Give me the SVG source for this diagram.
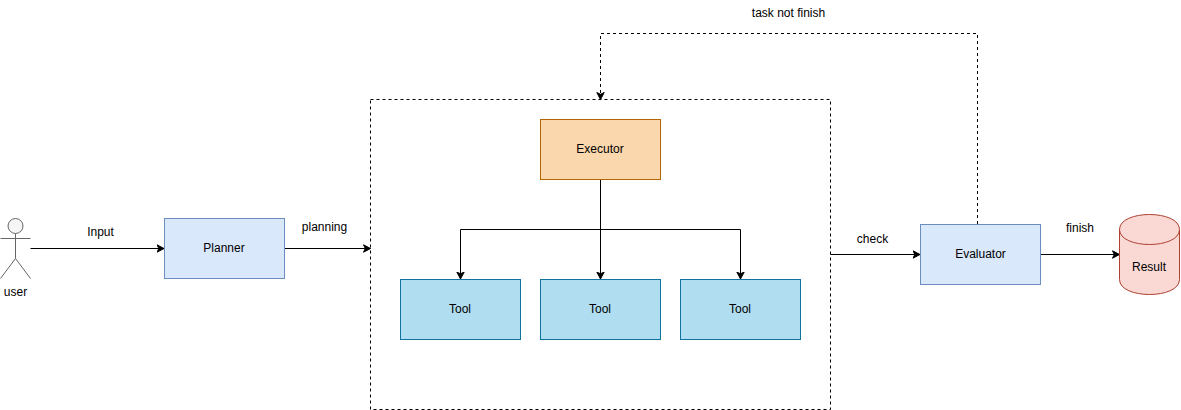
<svg xmlns="http://www.w3.org/2000/svg" width="1181" height="410" viewBox="0 0 1181 410">
<defs>
<style>
text{font-family:Helvetica,"Liberation Sans",Arial,sans-serif;font-size:12px;fill:#000;text-anchor:middle}
.blue{fill:#dae8fc;stroke:#6c8ebf}
.orange{fill:#fad7ac;stroke:#b46504}
.tool{fill:#b1ddf0;stroke:#10739e}
.red{fill:#fad9d5;stroke:#ae4132}
.c{fill:none;stroke:#000;stroke-width:1}
.d{stroke-dasharray:3 3}
.actor{fill:none;stroke:#666}
</style>
<marker id="arrow" viewBox="0 0 8 9" refX="7.5" refY="4.500" markerWidth="8" markerHeight="9" markerUnits="userSpaceOnUse" orient="auto">
<path d="M0.500 0.800 L7.500 4.500 L0.500 8.200 L2.300 4.500 Z" fill="#000" stroke="#000" stroke-width="1"/>
</marker>
</defs>
<rect width="1181" height="410" fill="#fff"/>
<g id="executor-frame"><rect x="370.500" y="99.500" width="460" height="310" fill="none" stroke="#000" stroke-dasharray="3 3"/></g>
<g id="connectors">
<path class="c" d="M30.500 248.500H164" marker-end="url(#arrow)"/>
<path class="c" d="M284.500 248.500H370.500" marker-end="url(#arrow)"/>
<path class="c" d="M600.500 179.500V279" marker-end="url(#arrow)"/>
<path class="c" d="M600.500 229.500H460.500V279" marker-end="url(#arrow)"/>
<path class="c" d="M600.500 229.500H740.500V279" marker-end="url(#arrow)"/>
<path class="c" d="M830.500 254.500H920" marker-end="url(#arrow)"/>
<path class="c" d="M1040.500 254.500H1119.500" marker-end="url(#arrow)"/>
<path class="c d" d="M977.500 224V33.500H600.500V99.500" marker-end="url(#arrow)"/>
</g>
<g id="user">
<circle cx="15.500" cy="226" r="7.500" fill="#f5f5f5" stroke="#666"/>
<path class="actor" d="M15.500 233.500V258.500M0.500 238.500H30.500M15.500 258.500L0.500 278.500M15.500 258.500L30.500 278.500"/>
<text x="15.500" y="296">user</text>
</g>
<g id="planner"><rect class="blue" x="164.500" y="218.500" width="120" height="60"/><text x="224" y="252">Planner</text></g>
<g id="executor"><rect class="orange" x="540.500" y="119.500" width="120" height="60"/><text x="600" y="153">Executor</text></g>
<g id="tool1"><rect class="tool" x="400.500" y="279.500" width="120" height="60"/><text x="460" y="313">Tool</text></g>
<g id="tool2"><rect class="tool" x="540.500" y="279.500" width="120" height="60"/><text x="600" y="313">Tool</text></g>
<g id="tool3"><rect class="tool" x="680.500" y="279.500" width="120" height="60"/><text x="740" y="313">Tool</text></g>
<g id="evaluator"><rect class="blue" x="920.500" y="224.500" width="120" height="60"/><text x="980.500" y="258">Evaluator</text></g>
<g id="result">
<path class="red" d="M1119.500 229.500C1119.500 209.500 1179.500 209.500 1179.500 229.500V279.500C1179.500 299.500 1119.500 299.500 1119.500 279.500Z"/>
<path class="red" style="fill:none" d="M1119.500 229.500C1119.500 249.500 1179.500 249.500 1179.500 229.500"/>
<text x="1149" y="271">Result</text>
</g>
<g id="labels">
<text x="100.500" y="236">Input</text>
<text x="324.500" y="231">planning</text>
<text x="872.500" y="243">check</text>
<text x="1080" y="232">finish</text>
<text x="788.500" y="17">task not finish</text>
</g>
</svg>
